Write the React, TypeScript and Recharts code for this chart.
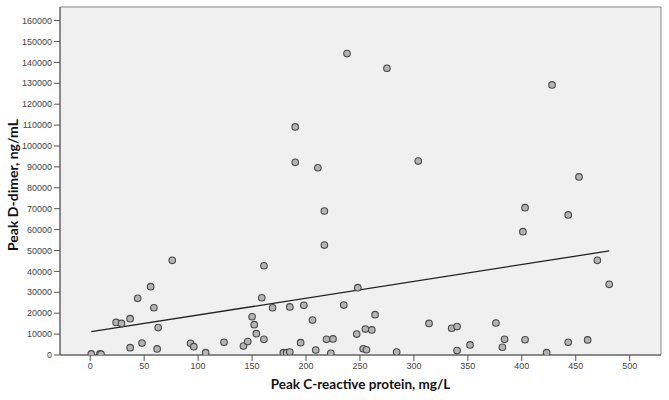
import React from "react";
import {
  ScatterChart,
  Scatter,
  XAxis,
  YAxis,
  CartesianGrid,
  ReferenceArea,
} from "recharts";

// Peak C-reactive protein, mg/L
const crpValues = [
  1, 9, 10, 24, 29, 37, 44, 56, 59, 63, 76, 37, 48, 62, 93, 96, 107, 124, 142, 146,
  150, 152, 154, 161, 159, 169, 185, 198, 235, 206, 264, 314, 161, 195, 219, 225, 247, 255, 261, 253,
  256, 209, 179, 182, 185, 223, 284, 248, 217, 217, 190, 190, 211, 238, 275, 304, 428, 453, 403, 443,
  401, 470, 481, 335, 340, 376, 384, 382, 403, 423, 443, 461, 340, 352,
];

// Peak D-dimer, ng/mL
const ddimerValues = [
  500, 500, 400, 15600, 15100, 17400, 27100, 32700, 22600, 13100, 45300, 3500, 5700, 2900, 5600, 4000, 1100, 6100, 4300, 6400,
  18300, 14500, 10200, 42700, 27400, 22600, 23000, 23800, 23900, 16700, 19300, 15100, 7500, 5900, 7500, 7700, 10000, 12400, 12000, 3000,
  2500, 2400, 1100, 1100, 1400, 800, 1400, 32200, 52600, 68900, 109100, 92200, 89600, 144200, 137200, 92800, 129200, 85200, 70500, 67000,
  59000, 45300, 33800, 12800, 13600, 15300, 7500, 3700, 7300, 1100, 6100, 7200, 2100, 4800,
];

// Fit line endpoints
const fitX = [1, 481];
const fitY = [11150, 49800];

const xTicks = [0, 50, 100, 150, 200, 250, 300, 350, 400, 450, 500];
const yTicks = [
  0, 10000, 20000, 30000, 40000, 50000, 60000, 70000, 80000, 90000, 100000, 110000, 120000, 130000, 140000, 150000, 160000,
];

const points = crpValues.map((x, i) => ({ x, y: ddimerValues[i] }));
const fitLine = fitX.map((x, i) => ({ x, y: fitY[i] }));

const X_DOMAIN: [number, number] = [-28, 529];
const Y_DOMAIN: [number, number] = [0, 166500];

const tickStyle = { fontSize: 9, fill: "#444", fontFamily: "'Liberation Sans', Arial, sans-serif" };

const Dot = (props: any) => {
  const { cx, cy } = props;
  if (cx == null || cy == null) return null;
  return <circle cx={cx} cy={cy} r={3.3} fill="#b4b4b4" stroke="#4a4a4a" strokeWidth={1.1} />;
};

export default function App() {
  return (
    <div style={{ position: "absolute", left: 0, top: 0, width: 669, height: 400, background: "#fff" }}>
      <ScatterChart width={669} height={400} margin={{ top: 7, right: 8, bottom: 0, left: 0 }}>
        <CartesianGrid horizontal={false} vertical={false} fill="#f0f0f0" />
        <XAxis
          type="number"
          dataKey="x"
          domain={X_DOMAIN}
          ticks={xTicks}
          allowDataOverflow
          height={45}
          tick={tickStyle}
          tickSize={6}
          tickMargin={2}
          axisLine={{ stroke: "#555" }}
          tickLine={{ stroke: "#555" }}
          label={{
            value: "Peak C-reactive protein, mg/L",
            position: "insideBottom",
            offset: 11,
            style: { fontFamily: "Lato, sans-serif", fontWeight: 700, fontSize: 13.5, fill: "#111" },
          }}
        />
        <YAxis
          type="number"
          dataKey="y"
          domain={Y_DOMAIN}
          ticks={yTicks}
          allowDataOverflow
          width={60}
          tick={tickStyle}
          tickSize={6}
          tickMargin={2}
          axisLine={{ stroke: "#555" }}
          tickLine={{ stroke: "#555" }}
          label={{
            value: "Peak D-dimer, ng/mL",
            angle: -90,
            position: "insideLeft",
            offset: 13,
            dy: 4,
            style: { textAnchor: "middle", fontFamily: "Lato, sans-serif", fontWeight: 700, fontSize: 14, fill: "#111" },
          }}
        />
        <ReferenceArea
          x1={X_DOMAIN[0]}
          x2={X_DOMAIN[1]}
          y1={Y_DOMAIN[0]}
          y2={Y_DOMAIN[1]}
          fill="none"
          stroke="#888"
          strokeWidth={1}
          ifOverflow="visible"
        />
        <Scatter
          data={fitLine}
          line={{ stroke: "#222", strokeWidth: 1.3 }}
          shape={() => null}
          isAnimationActive={false}
        />
        <Scatter data={points} shape={<Dot />} isAnimationActive={false} />
      </ScatterChart>
    </div>
  );
}
